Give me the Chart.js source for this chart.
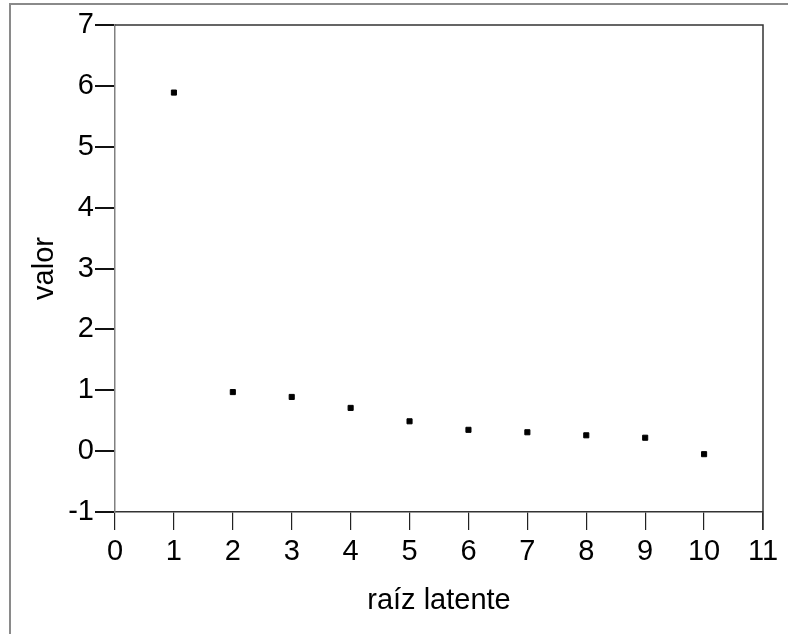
<!DOCTYPE html>
<html>
<head>
<meta charset="utf-8">
<script src="https://cdn.jsdelivr.net/npm/chart.js@4/dist/chart.umd.min.js"></script>
<style>
  html, body { margin: 0; padding: 0; background: #fff; }
  #wrap { width: 788px; height: 634px; position: relative; }
</style>
</head>
<body>
<div id="wrap"><canvas id="screeChart"></canvas></div>
<script>
// raíz latente vs valor (scree plot)
const roots = [1, 2, 3, 4, 5, 6, 7, 8, 9, 10];
const values = [5.89, 0.97, 0.89, 0.71, 0.49, 0.35, 0.31, 0.26, 0.22, -0.05];
const xTicks = [0, 1, 2, 3, 4, 5, 6, 7, 8, 9, 10, 11];
const yTicks = [-1, 0, 1, 2, 3, 4, 5, 6, 7];

const fontFamily = '"Liberation Sans", Arial, sans-serif';

// outer frame + top/right border of the plot area
const framePlugin = {
    id: 'frame',
    beforeDraw(chart) {
        const c = chart.ctx;
        c.save();
        c.strokeStyle = '#8a8a8a';
        c.lineWidth = 2;
        c.beginPath();
        c.moveTo(788, 4);
        c.lineTo(10, 4);
        c.lineTo(10, 634);
        c.stroke();
        c.restore();
    },
    afterDraw(chart) {
        const a = chart.chartArea;
        const c = chart.ctx;
        c.save();
        c.strokeStyle = '#333';
        c.lineWidth = 1.5;
        c.beginPath();
        c.moveTo(a.left, a.top);
        c.lineTo(a.right, a.top);
        c.lineTo(a.right, a.bottom + 18);
        c.stroke();
        c.restore();
    }
};

const ctx = document.getElementById('screeChart').getContext('2d');
new Chart(ctx, {
    type: 'scatter',
    data: {
        datasets: [{
            data: roots.map((r, i) => ({ x: r, y: values[i] })),
            pointStyle: 'rect',
            pointRadius: 3.6,
            borderWidth: 1,
            backgroundColor: '#000',
            borderColor: '#000'
        }]
    },
    options: {
        responsive: true,
        maintainAspectRatio: false,
        animation: false,
        layout: { padding: { top: 25, right: 25, left: 0, bottom: 0 } },
        plugins: { legend: { display: false }, tooltip: { enabled: false } },
        scales: {
            x: {
                type: 'linear',
                min: 0,
                max: 11,
                afterBuildTicks: (s) => { s.ticks = xTicks.map(v => ({ value: v })); },
                afterFit: (s) => { s.height = 122; },
                border: { color: '#333', width: 1.5 },
                grid: { drawOnChartArea: false, drawTicks: true, tickLength: 18, color: '#222', lineWidth: 1.2 },
                ticks: { color: '#000', padding: 5, font: { family: fontFamily, size: 29 } },
                title: {
                    display: true,
                    text: 'raíz latente',
                    color: '#000',
                    font: { family: fontFamily, size: 29 },
                    padding: { top: 0, bottom: 16 }
                }
            },
            y: {
                type: 'linear',
                min: -1,
                max: 7,
                afterBuildTicks: (s) => { s.ticks = yTicks.map(v => ({ value: v })); },
                afterFit: (s) => { s.width = 115; },
                border: { color: '#808080', width: 1.5 },
                grid: { drawOnChartArea: false, drawTicks: true, tickLength: 20, color: '#111', lineWidth: 2 },
                ticks: { color: '#000', padding: 1, font: { family: fontFamily, size: 29 } },
                title: {
                    display: true,
                    text: 'valor',
                    color: '#000',
                    font: { family: fontFamily, size: 29 },
                    padding: { top: 28, bottom: 0 }
                }
            }
        }
    },
    plugins: [framePlugin]
});
</script>
</body>
</html>
